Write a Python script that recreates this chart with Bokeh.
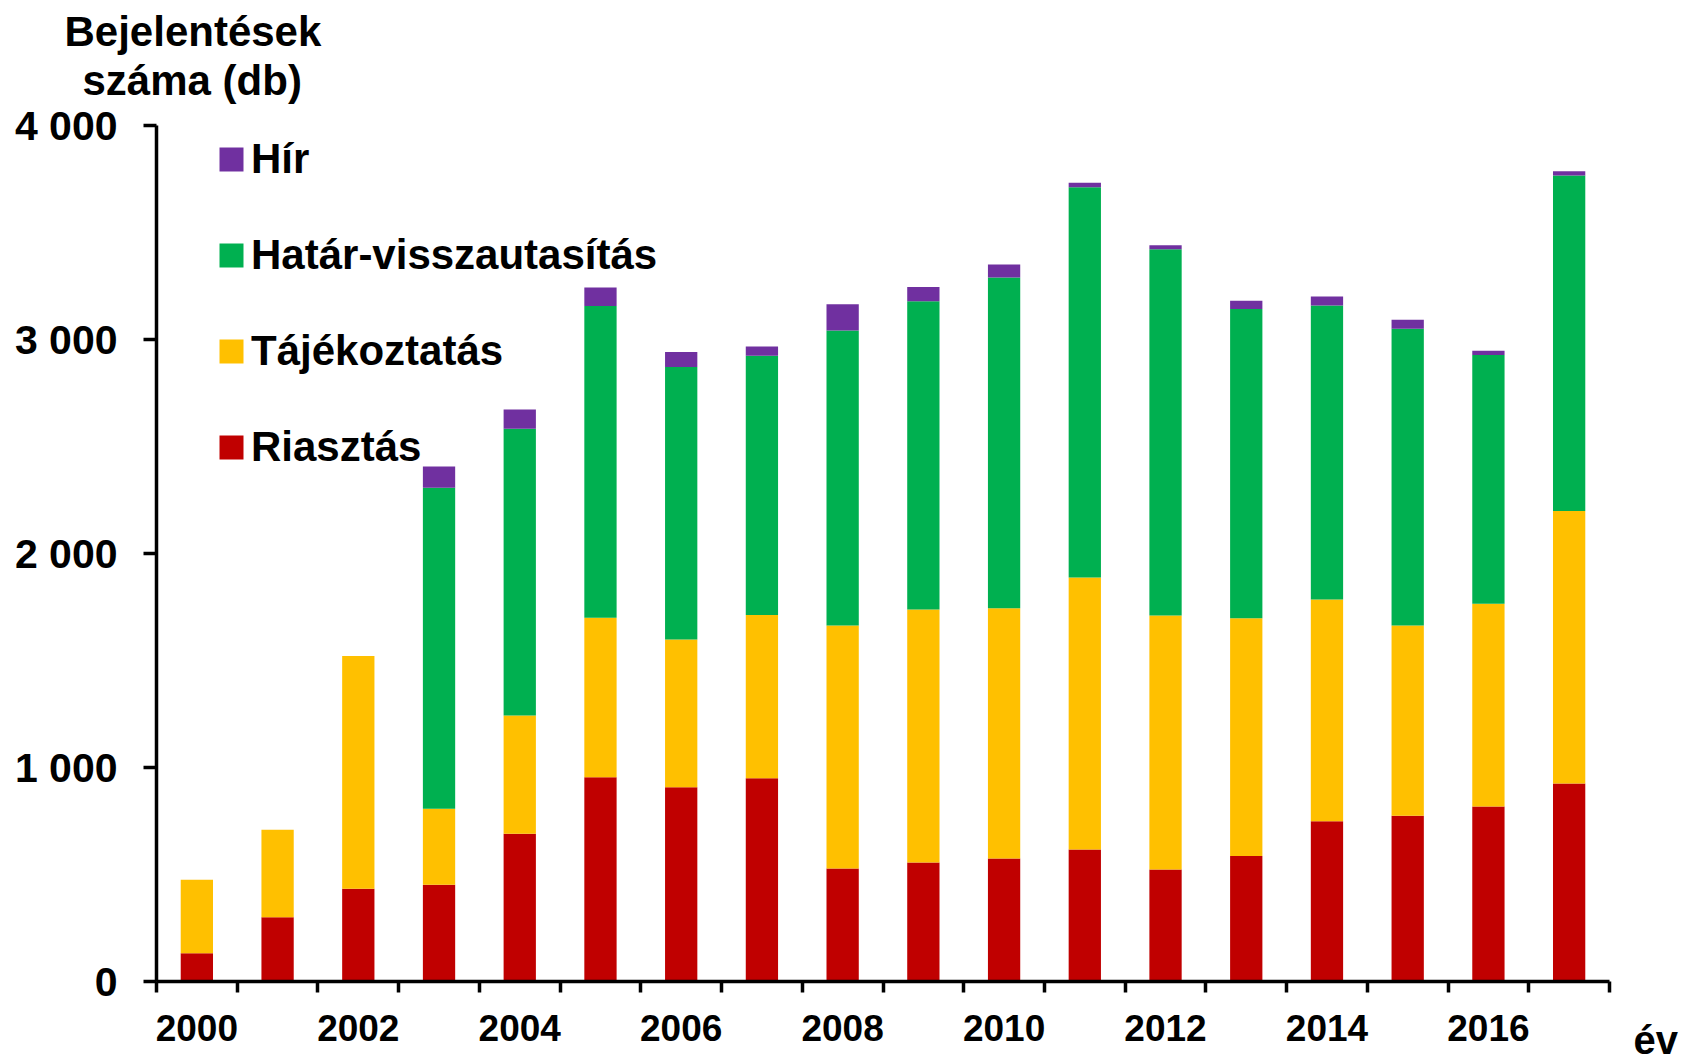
from bokeh.plotting import figure
from bokeh.models import (Range1d, FixedTicker, Legend, LegendItem, ColumnDataSource,
                          LinearAxis, Title, Label)
from bokeh.embed import file_html
from bokeh.resources import INLINE

# ---- data ----
years = list(range(2000, 2018))
riasztas = [132, 300, 433, 452, 690, 955, 908, 950, 528, 556, 575, 617, 523, 586, 749, 774, 818, 925]
tajekoztatas = [343, 409, 1088, 355, 553, 745, 690, 763, 1136, 1182, 1169, 1271, 1187, 1112, 1036, 890, 947, 1274]
hatar = [0, 0, 0, 1500, 1340, 1457, 1273, 1211, 1378, 1441, 1546, 1824, 1712, 1444, 1374, 1386, 1163, 1567]
hir = [0, 0, 0, 100, 90, 86, 71, 43, 123, 66, 60, 20, 19, 39, 42, 42, 19, 20]

series_keys = ["riasztas", "tajekoztatas", "hatar", "hir"]
series_names = ["Riasztás", "Tájékoztatás", "Határ-visszautasítás", "Hír"]
series_colors = ["#C00000", "#FFC000", "#00B050", "#7030A0"]

y_ticks = [0, 1000, 2000, 3000, 4000]
y_tick_labels = ["0", "1 000", "2 000", "3 000", "4 000"]
x_label_years = [2000, 2002, 2004, 2006, 2008, 2010, 2012, 2014, 2016]
x_boundaries = [y - 0.5 for y in years] + [years[-1] + 0.5]
y_title_lines = ["Bejelentések", "száma (db)"]
x_title = "év"

FONT = "Liberation Sans"

p = figure(width=1683, height=1055, output_backend="svg", toolbar_location=None,
           x_range=Range1d(1999.5, 2017.5), y_range=Range1d(0, 4000),
           min_border_left=156, min_border_right=74, min_border_top=125, min_border_bottom=74,
           x_axis_type=None, y_axis_type=None, title_location=None)
p.outline_line_color = None
p.background_fill_color = "white"
p.border_fill_color = "white"

src = ColumnDataSource(dict(year=years, riasztas=riasztas, tajekoztatas=tajekoztatas,
                            hatar=hatar, hir=hir))
rs = p.vbar_stack(series_keys, x="year", width=0.4, color=series_colors, source=src,
                  line_color=None)

xaxis = LinearAxis(ticker=FixedTicker(ticks=x_label_years, minor_ticks=x_boundaries))
xaxis.axis_line_width = 3.5
xaxis.axis_line_color = "black"
xaxis.major_tick_out = 0
xaxis.major_tick_in = 0
xaxis.minor_tick_out = 11
xaxis.minor_tick_in = 0
xaxis.minor_tick_line_width = 3.5
xaxis.minor_tick_line_color = "black"
xaxis.major_label_text_font = FONT
xaxis.major_label_text_font_style = "bold"
xaxis.major_label_text_font_size = "37px"
xaxis.major_label_text_color = "black"
xaxis.major_label_standoff = 22
xaxis.formatter.use_scientific = False
p.add_layout(xaxis, "below")

yaxis = LinearAxis(ticker=FixedTicker(ticks=y_ticks, minor_ticks=[]))
yaxis.major_label_overrides = {t: l for t, l in zip(y_ticks, y_tick_labels)}
yaxis.axis_line_width = 3.5
yaxis.major_tick_out = 13
yaxis.major_tick_in = 0
yaxis.major_tick_line_width = 3.5
yaxis.minor_tick_out = 0
yaxis.minor_tick_in = 0
yaxis.major_label_text_font = FONT
yaxis.major_label_text_font_style = "bold"
yaxis.major_label_text_font_size = "41px"
yaxis.major_label_text_color = "black"
yaxis.major_label_standoff = 26
p.add_layout(yaxis, "left")

# y-axis title: two lines above the plot (closest line added first)
p.add_layout(Title(text=y_title_lines[1], align="left", offset=-74, standoff=44,
                   vertical_align="bottom", text_font=FONT, text_font_style="bold",
                   text_font_size="42px", text_color="black"), "above")
p.add_layout(Title(text=y_title_lines[0], align="left", offset=-92, standoff=-45,
                   vertical_align="bottom", text_font=FONT, text_font_style="bold",
                   text_font_size="42px", text_color="black"), "above")

# main legend
items = [LegendItem(label=series_names[i], renderers=[rs[i]]) for i in [3, 2, 1, 0]]
legend = Legend(items=items, location=(60, 510), orientation="vertical",
                glyph_width=30, glyph_height=30, label_standoff=5, spacing=48,
                padding=0, margin=0, border_line_color=None, background_fill_alpha=0,
                label_text_font=FONT, label_text_font_style="bold",
                label_text_font_size="42px", label_text_color="black")
p.add_layout(legend)

# x-axis title "év" at bottom right, in the right-side panel
p.add_layout(Label(x=24, y=-58, x_units="screen", y_units="screen", text=x_title,
                   text_align="left", text_baseline="alphabetic", text_font=FONT,
                   text_font_style="bold", text_font_size="40px", text_color="black"),
             "right")

open("out.html", "w").write(file_html(p, INLINE))
